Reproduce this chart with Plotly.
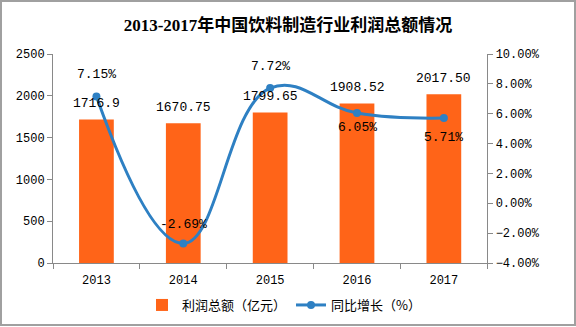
import plotly.graph_objects as go
from plotly.subplots import make_subplots

years = ["2013", "2014", "2015", "2016", "2017"]
profit = [1716.9, 1670.75, 1799.65, 1908.52, 2017.50]
profit_labels = ["1716.9", "1670.75", "1799.65", "1908.52", "2017.50"]
growth = [7.15, -2.69, 7.72, 6.05, 5.71]
growth_labels = ["7.15%", "-2.69%", "7.72%", "6.05%", "5.71%"]
growth_label_dy = [-22, -19, -22, 15, 19]   # pixel offset of each % label from its point

num_font = "Liberation Mono, DejaVu Sans Mono, monospace"
cjk_font = "Noto Sans CJK SC, sans-serif"

# plot area geometry (px)
L, R, T, B = 53, 61, 54, 64
W, H = 576, 327
pw, ph = W - L - R, H - T - B

fig = make_subplots(specs=[[{"secondary_y": True}]])

fig.add_trace(
    go.Bar(
        x=years, y=profit, name="利润总额（亿元）",
        marker=dict(color="#ff6418", line=dict(width=0)),
        width=0.4,
    ),
    secondary_y=False,
)

fig.add_trace(
    go.Scatter(
        x=years, y=growth, name="同比增长（%）",
        mode="lines+markers",
        line=dict(color="#2e80c3", width=3, shape="spline", smoothing=1.2),
        marker=dict(color="#2e80c3", size=8),
        cliponaxis=False,
    ),
    secondary_y=True,
)

# category positions are indexed 0..n-1 on the x axis
annotations = []
for i, (v, t) in enumerate(zip(profit, profit_labels)):
    annotations.append(dict(
        x=i, y=v, xref="x", yref="y", text=t, showarrow=False,
        yanchor="middle", yshift=16,
        font=dict(family=num_font, size=13, color="#000000"),
    ))
for i, (v, t, dy) in enumerate(zip(growth, growth_labels, growth_label_dy)):
    annotations.append(dict(
        x=i, y=v, xref="x", yref="y2", text=t, showarrow=False,
        yanchor="middle", yshift=-dy,
        font=dict(family=num_font, size=13, color="#000000"),
    ))

axis_color = "#898989"

fig.update_layout(
    width=W, height=H,
    margin=dict(l=L, r=R, t=T, b=B, autoexpand=False),
    paper_bgcolor="#ffffff", plot_bgcolor="#ffffff",
    title=dict(
        text="<b>2013-2017年中国饮料制造行业利润总额情况</b>",
        x=0.5, xanchor="center", y=1 - 25 / H, yanchor="middle",
        font=dict(family="Liberation Serif, Noto Sans CJK SC, serif", size=17, color="#000000"),
    ),
    showlegend=True,
    legend=dict(
        orientation="h", x=0.5, xanchor="center",
        yref="container", y=1 - 305 / H, yanchor="middle",
        font=dict(family=cjk_font, size=13, color="#000000"),
        itemwidth=30, bgcolor="rgba(0,0,0,0)",
    ),
    annotations=annotations,
    shapes=[dict(type="rect", xref="paper", yref="paper",
                 x0=(1 - L) / pw, x1=(575 - L) / pw,
                 y0=(H - B - 325) / ph, y1=(H - B - 1) / ph,
                 line=dict(color="#a0a0a0", width=2), fillcolor="rgba(0,0,0,0)")],
)

fig.update_xaxes(
    type="category", categoryorder="array", categoryarray=years,
    showline=True, linecolor=axis_color, linewidth=1,
    ticks="outside", tickson="boundaries", ticklen=5, tickcolor=axis_color,
    ticklabelstandoff=6,
    tickfont=dict(family=num_font, size=12, color="#000000"),
    showgrid=False, mirror=False,
)

fig.update_yaxes(
    range=[0, 2500], dtick=500, showgrid=False, zeroline=False,
    showline=True, linecolor=axis_color, ticks="outside", ticklen=5, tickcolor=axis_color,
    tickfont=dict(family=num_font, size=12, color="#000000"),
    secondary_y=False,
)
fig.update_yaxes(
    range=[-4, 10], dtick=2, showgrid=False, zeroline=False,
    showline=True, linecolor=axis_color, ticks="outside", ticklen=5, tickcolor=axis_color,
    tickformat=".2f", ticksuffix="%",
    tickfont=dict(family=num_font, size=12, color="#000000"),
    secondary_y=True,
)

fig.write_html("out.html")
